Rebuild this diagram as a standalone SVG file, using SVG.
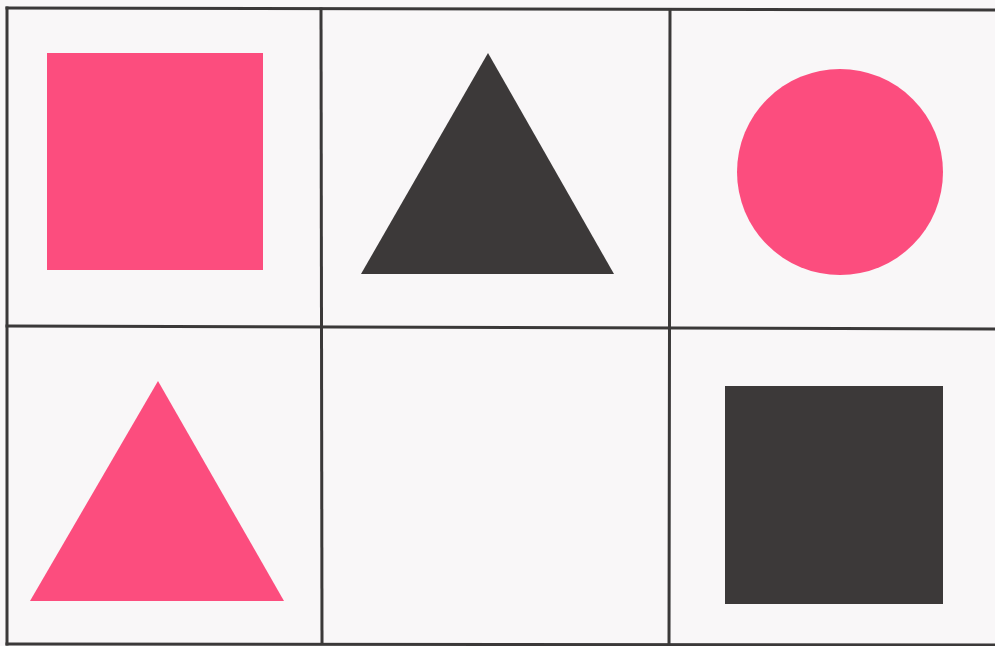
<svg xmlns="http://www.w3.org/2000/svg" width="995" height="646" viewBox="0 0 995 646">
<style>
.grid{stroke:#3b3939;stroke-width:3;fill:none;stroke-linecap:square}
.pink{fill:#fc4d7e}
.dark{fill:#3c3939}
</style>
<rect x="0" y="0" width="995" height="646" fill="#f9f7f8"/>
<g id="grid">
<line class="grid" x1="7" y1="8" x2="995" y2="10"/>
<line class="grid" x1="7" y1="326" x2="995" y2="329"/>
<line class="grid" x1="7" y1="644" x2="995" y2="645"/>
<line class="grid" x1="7" y1="8" x2="7" y2="644"/>
<line class="grid" x1="321" y1="9" x2="322" y2="642"/>
<line class="grid" x1="670" y1="10" x2="669" y2="645"/>
</g>
<g id="pink-square"><rect class="pink" x="47" y="53" width="216" height="217"/></g>
<g id="dark-triangle"><polygon class="dark" points="488,53 614,274 361,274"/></g>
<g id="pink-circle"><circle class="pink" cx="840" cy="172" r="103"/></g>
<g id="pink-triangle"><polygon class="pink" points="158,381 284,601 30,601"/></g>
<g id="dark-square"><rect class="dark" x="725" y="386" width="218" height="218"/></g>
</svg>
